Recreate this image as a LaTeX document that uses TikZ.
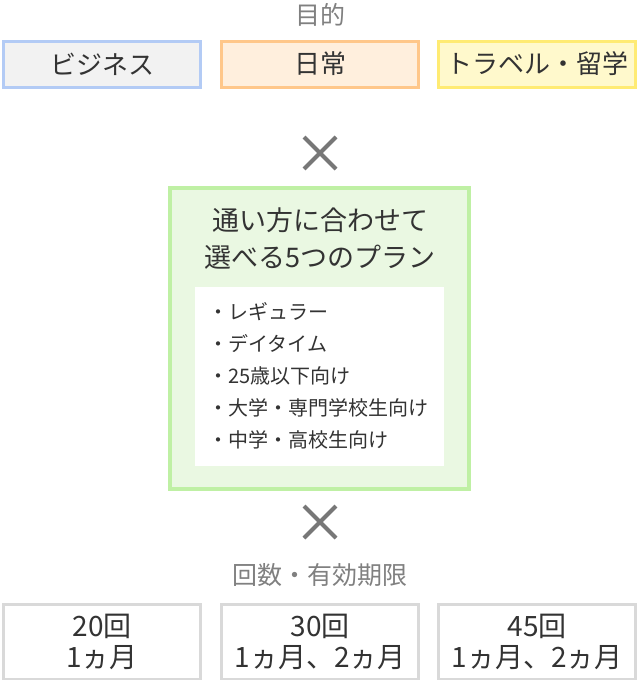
\documentclass[tikz,border=0pt]{standalone}
\usepackage{fontspec}
\setmainfont{Noto Sans CJK JP}
\usetikzlibrary{positioning}
\definecolor{txt}{HTML}{333333}
\definecolor{lbl}{HTML}{808080}
\definecolor{cross}{HTML}{777777}
\definecolor{bizline}{HTML}{B3CBF5}
\definecolor{bizfill}{HTML}{F2F2F2}
\definecolor{dayline}{HTML}{FFC78A}
\definecolor{dayfill}{HTML}{FFEFDD}
\definecolor{tripline}{HTML}{FFEB73}
\definecolor{tripfill}{HTML}{FFF9CC}
\definecolor{planline}{HTML}{BFF0A4}
\definecolor{planfill}{HTML}{EAF8E2}
\definecolor{countline}{HTML}{D9D9D9}
\tikzset{
  aimbox/.style={draw=#1line, fill=#1fill, line width=3pt, minimum width=197pt, minimum height=46pt, inner sep=0pt, text=txt, font=\fontsize{26}{28}\selectfont},
  countbox/.style={draw=countline, fill=white, line width=3pt, minimum width=197pt, minimum height=75pt, inner sep=0pt, text=txt, align=center, font=\fontsize{28}{31}\selectfont},
  caption/.style={text=lbl, font=\fontsize{25}{26}\selectfont},
}
\begin{document}
\begin{tikzpicture}[x=1pt,y=-1pt]
    \useasboundingbox (0,0) rectangle (640,680);
    % purpose
    \node[caption] (aim) at (320,15) {目的};
    \node[aimbox=biz] (biz) at (102,64) {ビジネス};
    \node[aimbox=day] (daily) at (320,64) {日常};
    \node[aimbox=trip] (travel) at (537,64) {トラベル・留学};
    % first cross
    \coordinate (c1) at (320,153);
    \draw[cross, line width=4pt] ([shift={(-16,-16)}]c1) -- ([shift={(16,16)}]c1);
    \draw[cross, line width=4pt] ([shift={(-16,16)}]c1) -- ([shift={(16,-16)}]c1);
    % plans
    \draw[draw=planline, fill=planfill, line width=4pt] (170,188) rectangle (469,489);
    \node[text=txt, align=center, font=\fontsize{27}{37}\selectfont] (plans) at (320,239) {通い方に合わせて\\選べる5つのプラン};
    \fill[white] (195,287) rectangle (444,466);
    \node[anchor=west, text=txt, align=left, font=\fontsize{20}{32}\selectfont] (list) at (205,376)
      {・レギュラー\\・デイタイム\\・25歳以下向け\\・大学・専門学校生向け\\・中学・高校生向け};
    % second cross
    \coordinate (c2) at (320,522);
    \draw[cross, line width=4pt] ([shift={(-16,-16)}]c2) -- ([shift={(16,16)}]c2);
    \draw[cross, line width=4pt] ([shift={(-16,16)}]c2) -- ([shift={(16,-16)}]c2);
    % counts
    \node[caption] (term) at (320,575) {回数・有効期限};
    \node[countbox] (n20) at (102,642) {20回\\1ヵ月};
    \node[countbox] (n30) at (320,642) {30回\\1ヵ月、2ヵ月};
    \node[countbox] (n45) at (537,642) {45回\\1ヵ月、2ヵ月};
\end{tikzpicture}
\end{document}
